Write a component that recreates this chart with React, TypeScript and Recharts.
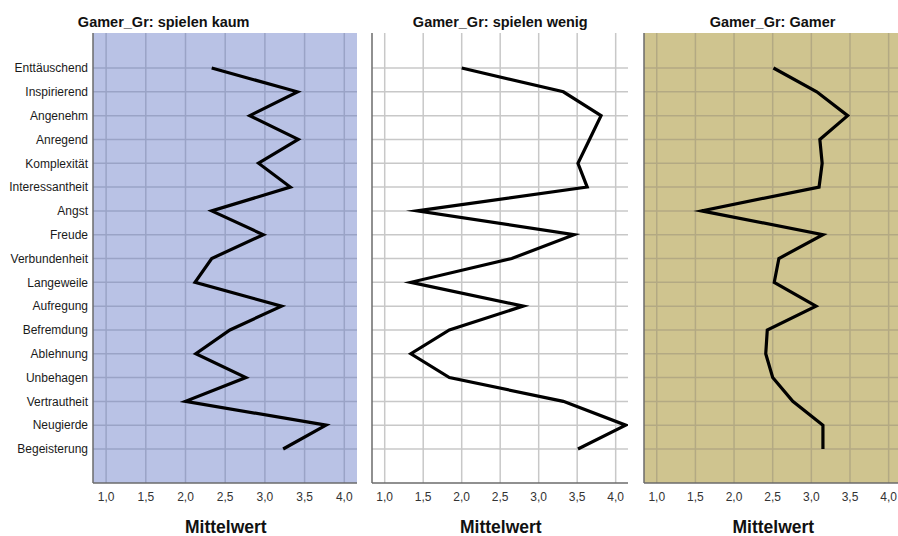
import React from 'react';
import { LineChart, Line, XAxis, YAxis, CartesianGrid, ReferenceLine } from 'recharts';

const categories = [
  'Enttäuschend', 'Inspirierend', 'Angenehm', 'Anregend', 'Komplexität', 'Interessantheit',
  'Angst', 'Freude', 'Verbundenheit', 'Langeweile', 'Aufregung', 'Befremdung',
  'Ablehnung', 'Unbehagen', 'Vertrautheit', 'Neugierde', 'Begeisterung',
];

const spielenKaum = [2.33, 3.41, 2.81, 3.42, 2.92, 3.32, 2.33, 2.98, 2.33, 2.12, 3.21, 2.56, 2.13, 2.76, 2.0, 3.77, 3.23];
const spielenWenig = [2.0, 3.32, 3.81, 3.66, 3.51, 3.63, 1.42, 3.46, 2.65, 1.34, 2.8, 1.84, 1.34, 1.84, 3.32, 4.13, 3.51];
const gamer = [2.51, 3.07, 3.47, 3.11, 3.14, 3.1, 1.58, 3.15, 2.58, 2.52, 3.06, 2.43, 2.41, 2.5, 2.76, 3.15, 3.15];

const xTicks = [1.0, 1.5, 2.0, 2.5, 3.0, 3.5, 4.0];
const panelTitles = ['Gamer_Gr: spielen kaum', 'Gamer_Gr: spielen wenig', 'Gamer_Gr: Gamer'];
const axisTitle = 'Mittelwert';

const rows = categories.map((name, i) => ({
  name,
  kaum: spielenKaum[i],
  wenig: spielenWenig[i],
  gamer: gamer[i],
}));

const FONT = '"Liberation Sans", Arial, Helvetica, sans-serif';
const fmt = (v: number) => v.toFixed(1).replace('.', ',');

type PanelProps = {
  left: number;
  width: number;
  yWidth: number;
  rightMargin: number;
  dataKey: string;
  fill: string;
  grid: string;
  showLabels: boolean;
};

function Panel({ left, width, yWidth, rightMargin, dataKey, fill, grid, showLabels }: PanelProps) {
  return (
    <div style={{ position: 'absolute', left, top: 0 }}>
      <LineChart
        width={width}
        height={536}
        data={rows}
        layout="vertical"
        margin={{ top: 33, right: rightMargin, bottom: 23, left: 0 }}
      >
        <CartesianGrid fill={fill} stroke="none" horizontal={false} vertical={false} />
        {categories.map((c) => (
          <ReferenceLine key={c} y={c} stroke={grid} strokeWidth={1.5} ifOverflow="visible" />
        ))}
        {xTicks.map((t) => (
          <ReferenceLine key={t} x={t} stroke={grid} strokeWidth={1.5} ifOverflow="visible" />
        ))}
        <XAxis
          type="number"
          domain={[0.835, 4.16]}
          ticks={xTicks}
          allowDataOverflow
          interval={0}
          height={30}
          tickFormatter={fmt}
          tickLine={false}
          tickSize={0}
          tickMargin={9}
          axisLine={{ stroke: '#6b6b6b', strokeWidth: 1.5 }}
          tick={{ fontSize: 12, fill: '#333', fontFamily: FONT }}
        />
        <YAxis
          type="category"
          dataKey="name"
          scale="point"
          width={yWidth}
          padding={{ top: 35, bottom: 34 }}
          interval={0}
          tickLine={false}
          tickSize={0}
          tickMargin={5}
          axisLine={{ stroke: '#6b6b6b', strokeWidth: 1.5 }}
          tick={showLabels ? { fontSize: 12, fill: '#1a1a1a', fontFamily: FONT } : false}
        />
        <Line
          dataKey={dataKey}
          stroke="#000"
          strokeWidth={3.2}
          strokeMiterlimit={10}
          dot={false}
          activeDot={false}
          isAnimationActive={false}
        />
      </LineChart>
    </div>
  );
}

export default function App() {
  const titleX = [163.7, 500.3, 772.5];
  const axisX = [225.8, 500.8, 773.3];
  return (
    <div
      style={{
        position: 'absolute',
        left: 0,
        top: 0,
        width: 898,
        height: 536,
        overflow: 'hidden',
        background: '#fff',
        fontFamily: FONT,
      }}
    >
      <Panel left={0} width={360} yWidth={93} rightMargin={3} dataKey="kaum" fill="#B9C2E5" grid="#9AA3C6" showLabels />
      <Panel left={362} width={270} yWidth={10} rightMargin={4} dataKey="wenig" fill="#FFFFFF" grid="#C8C8C8" showLabels={false} />
      <Panel left={634} width={280} yWidth={10} rightMargin={13} dataKey="gamer" fill="#CFC48F" grid="#B3A983" showLabels={false} />
      <svg
        width={898}
        height={536}
        style={{ position: 'absolute', left: 0, top: 0, pointerEvents: 'none' }}
      >
        {panelTitles.map((t, i) => (
          <text key={t} x={titleX[i]} y={26.7} textAnchor="middle" fontFamily={FONT} fontWeight="bold" fontSize={14.5} fill="#111">
            {t}
          </text>
        ))}
        {axisX.map((x, i) => (
          <text key={i} x={x} y={533} textAnchor="middle" fontFamily={FONT} fontWeight="bold" fontSize={17.5} fill="#111">
            {axisTitle}
          </text>
        ))}
      </svg>
    </div>
  );
}
